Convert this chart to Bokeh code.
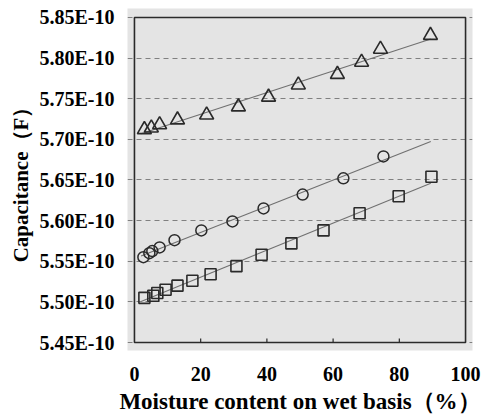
import numpy as np
from bokeh.plotting import figure
from bokeh.models import Range1d, FixedTicker, CustomJSTickFormatter, BoxAnnotation
from bokeh.embed import file_html
from bokeh.resources import INLINE

# Data (capacitance in units of 1E-10 F)
tri_x = [3.0, 5.1, 7.6, 13.0, 21.8, 31.4, 40.5, 49.5, 61.3, 68.6, 74.3, 89.4]
tri_c = [5.712, 5.714, 5.718, 5.724, 5.730, 5.740, 5.752, 5.767, 5.780, 5.795, 5.811, 5.828]
cir_x = [2.7, 4.5, 5.4, 7.6, 12.1, 20.2, 29.6, 39.0, 50.8, 63.1, 75.2]
cir_c = [5.555, 5.560, 5.5625, 5.567, 5.576, 5.588, 5.599, 5.615, 5.632, 5.652, 5.679]
sq_x = [3.0, 5.7, 6.9, 9.4, 13.0, 17.5, 23.0, 30.8, 38.4, 47.4, 57.1, 68.0, 79.8, 89.7]
sq_c = [5.505, 5.5075, 5.511, 5.515, 5.520, 5.526, 5.534, 5.544, 5.558, 5.572, 5.588, 5.609, 5.630, 5.654]

x_ticks = [0, 20, 40, 60, 80, 100]
y_ticks = [5.45, 5.50, 5.55, 5.60, 5.65, 5.70, 5.75, 5.80, 5.85]
fit_span = [2.0, 89.5]

x_min, x_max = x_ticks[0], x_ticks[-1]
y_min, y_max = y_ticks[0], y_ticks[-1]

FONT = "Liberation Serif"
INK = "#2a2a2a"

p = figure(width=494, height=416, output_backend="svg", toolbar_location=None,
           x_range=Range1d(-2.1, 102.1), y_range=Range1d(5.4402, 5.861),
           min_border_left=127, min_border_right=22, min_border_top=8, min_border_bottom=64)
p.background_fill_color = "#e4e4e4"
p.border_fill_color = "white"
p.outline_line_color = None

# grid
p.xgrid.visible = False
p.ygrid.ticker = FixedTicker(ticks=y_ticks)
p.ygrid.bounds = (x_min, x_max)
p.ygrid.grid_line_color = "#808080"
p.ygrid.grid_line_dash = "5 4"
p.ygrid.grid_line_width = 1

# inner frame
p.add_layout(BoxAnnotation(left=x_min, right=x_max, bottom=y_min, top=y_max,
                           fill_alpha=0, line_color=INK, line_width=1.6, line_alpha=1))

# inner x ticks
tick_len = 0.005
inner = [t for t in x_ticks if x_min < t < x_max]
p.segment(x0=inner, y0=[y_min] * len(inner), x1=inner, y1=[y_min + tick_len] * len(inner),
          line_color=INK, line_width=1.2)

# fit lines
for xs, cs in [(tri_x, tri_c), (cir_x, cir_c), (sq_x, sq_c)]:
    k, b = np.polyfit(xs, cs, 1)
    p.line(fit_span, [k * v + b for v in fit_span], line_color="#707070", line_width=1.1)

p.scatter(tri_x, tri_c, marker="triangle", size=14, fill_color=None, line_color=INK, line_width=1.6)
p.scatter(cir_x, cir_c, marker="circle", size=11, fill_color=None, line_color=INK, line_width=1.5)
p.scatter(sq_x, sq_c, marker="square", size=11, fill_color=None, line_color=INK, line_width=1.6)

# axes
for ax in (p.xaxis[0], p.yaxis[0]):
    ax.axis_line_color = None
    ax.major_tick_line_color = None
    ax.minor_tick_line_color = None
    ax.major_label_text_font = FONT
    ax.major_label_text_font_style = "bold"
    ax.major_label_text_font_size = "20px"
    ax.major_label_text_color = "black"
    ax.axis_label_text_font = FONT
    ax.axis_label_text_font_style = "bold"
    ax.axis_label_text_color = "black"

p.xaxis.ticker = FixedTicker(ticks=x_ticks)
p.xaxis.major_label_standoff = 10
p.xaxis.axis_label = "Moisture content on wet basis（%）"
p.xaxis.axis_label_text_font_size = "23px"
p.xaxis.axis_label_standoff = 5

p.yaxis.ticker = FixedTicker(ticks=y_ticks)
p.yaxis.formatter = CustomJSTickFormatter(code="return tick.toFixed(2) + 'E-10';")
p.yaxis.major_label_standoff = 7
p.yaxis.axis_label = "Capacitance（F）"
p.yaxis.axis_label_text_font_size = "21px"
p.yaxis.axis_label_standoff = 4

open("out.html", "w").write(file_html(p, INLINE))
